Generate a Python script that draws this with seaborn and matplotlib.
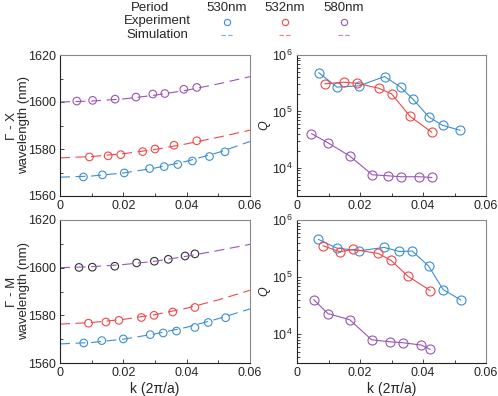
import numpy as np
import pandas as pd
import seaborn as sns
import matplotlib
matplotlib.use('Agg')
from matplotlib import pyplot as plt
from matplotlib.lines import Line2D
from matplotlib.ticker import MultipleLocator, FuncFormatter, LogLocator, NullFormatter

# 周期
periods = ['530nm', '532nm', '580nm']
colors = {'530nm': '#3a8fd3', '532nm': '#f04848', '580nm': '#9a55b5'}

# Γ-X 实验数据 (k, 波长)
gx_k = {
    '530nm': [0.0074, 0.0134, 0.0203, 0.0283, 0.0329, 0.0372, 0.0418, 0.0472, 0.0521],
    '532nm': [0.0093, 0.0152, 0.0192, 0.0261, 0.0300, 0.0360, 0.0432],
    '580nm': [0.0053, 0.0103, 0.0174, 0.0240, 0.0293, 0.0331, 0.0391, 0.0432],
}
gx_wl = {
    '530nm': [1568.1, 1569.0, 1569.8, 1571.7, 1572.5, 1573.4, 1574.9, 1576.8, 1578.8],
    '532nm': [1576.6, 1577.1, 1577.6, 1578.9, 1580.0, 1581.6, 1583.5],
    '580nm': [1600.4, 1600.7, 1601.2, 1602.1, 1603.4, 1603.6, 1605.4, 1606.2],
}
# Γ-M 实验数据
gm_k = {
    '530nm': [0.0075, 0.0132, 0.0200, 0.0285, 0.0326, 0.0368, 0.0426, 0.0468, 0.0523],
    '532nm': [0.0090, 0.0145, 0.0186, 0.0257, 0.0297, 0.0356, 0.0426],
    '580nm': [0.0060, 0.0102, 0.0173, 0.0242, 0.0298, 0.0342, 0.0395, 0.0426],
}
gm_wl = {
    '530nm': [1568.4, 1569.4, 1570.1, 1571.9, 1572.6, 1573.4, 1574.9, 1577.0, 1579.0],
    '532nm': [1576.7, 1577.2, 1577.9, 1579.1, 1580.0, 1581.4, 1583.3],
    '580nm': [1600.1, 1600.2, 1600.6, 1602.0, 1602.7, 1603.5, 1604.9, 1605.8],
}
# 模拟曲线
sim_k = [0.0, 0.01, 0.02, 0.03, 0.04, 0.05, 0.06]
gx_sim = {
    '530nm': [1568.0, 1568.5, 1569.8, 1571.9, 1574.8, 1578.5, 1583.2],
    '532nm': [1576.2, 1576.8, 1578.0, 1579.8, 1582.2, 1585.0, 1588.0],
    '580nm': [1600.0, 1600.4, 1601.3, 1602.9, 1605.0, 1607.7, 1610.8],
}
gm_sim = {
    '530nm': [1568.0, 1568.6, 1570.0, 1572.2, 1575.0, 1578.6, 1582.7],
    '532nm': [1576.3, 1577.0, 1578.3, 1580.3, 1583.0, 1586.5, 1590.5],
    '580nm': [1600.0, 1600.4, 1601.3, 1602.7, 1604.8, 1607.2, 1609.8],
}
# Q 因子
gx_q = {
    '530nm': [4.87e5, 2.69e5, 2.84e5, 4.15e5, 2.69e5, 1.65e5, 7.94e4, 5.66e4, 4.62e4],
    '532nm': [3.08e5, 3.29e5, 3.16e5, 2.58e5, 2.05e5, 8.17e4, 4.26e4],
    '580nm': [4.03e4, 2.76e4, 1.61e4, 7.52e3, 7.22e3, 6.94e3, 6.94e3, 6.75e3],
}
gm_q = {
    '530nm': [4.58e5, 3.23e5, 2.90e5, 3.31e5, 2.82e5, 2.86e5, 1.56e5, 6.08e4, 4.00e4],
    '532nm': [3.55e5, 2.78e5, 3.06e5, 2.60e5, 1.96e5, 1.04e5, 5.84e4],
    '580nm': [4.06e4, 2.31e4, 1.81e4, 8.05e3, 7.43e3, 7.14e3, 6.50e3, 5.46e3],
}
gx_qk = {
    '530nm': [0.0069, 0.0127, 0.0197, 0.0278, 0.0329, 0.0368, 0.0419, 0.0462, 0.0518],
    '532nm': [0.0088, 0.0148, 0.0189, 0.0259, 0.0300, 0.0359, 0.0428],
    '580nm': [0.0046, 0.0099, 0.0168, 0.0239, 0.0288, 0.0329, 0.0388, 0.0428],
}
gm_qk = {
    '530nm': [0.0068, 0.0126, 0.0197, 0.0277, 0.0325, 0.0366, 0.0418, 0.0464, 0.0520],
    '532nm': [0.0082, 0.0137, 0.0179, 0.0258, 0.0299, 0.0352, 0.0423],
    '580nm': [0.0053, 0.0098, 0.0167, 0.0237, 0.0295, 0.0338, 0.0395, 0.0423],
}

sns.set_style('ticks')
plt.rcParams['font.family'] = ['Liberation Sans', 'DejaVu Sans']
plt.rcParams['font.size'] = 9
plt.rcParams['mathtext.fontset'] = 'custom'
plt.rcParams['mathtext.rm'] = 'Liberation Sans'
plt.rcParams['mathtext.it'] = 'Liberation Sans:italic'

fig = plt.figure(figsize=(4.98, 3.96), dpi=100)
W, H = 498, 396
def box(l, t, r, b):
    return [l / W, 1 - b / H, (r - l) / W, (b - t) / H]

ax_gx = fig.add_axes(box(60, 55, 250, 196))
ax_qx = fig.add_axes(box(297, 55, 486, 196))
ax_gm = fig.add_axes(box(60, 220, 250, 363))
ax_qm = fig.add_axes(box(297, 220, 486, 363))

def style(ax):
    ax.set_xlim(0, 0.06)
    ax.xaxis.set_major_locator(MultipleLocator(0.02))
    ax.xaxis.set_minor_locator(MultipleLocator(0.01))
    ax.xaxis.set_major_formatter(FuncFormatter(lambda v, p: '0' if abs(v) < 1e-9 else f'{v:.2f}'))
    ax.tick_params(which='both', direction='in', length=3, width=0.6, labelsize=9, pad=3)
    ax.tick_params(which='minor', length=2)
    ax.tick_params(top=False, right=False)
    for s in ['left', 'bottom']:
        ax.spines[s].set_color('#222222')
        ax.spines[s].set_linewidth(0.8)
    for s in ['top', 'right']:
        ax.spines[s].set_color('#888888')
        ax.spines[s].set_linewidth(0.8)
    ax.set_xlabel('')
    ax.set_ylabel('')

def wl_panel(ax, ks, wls, sims, edge580):
    for p in periods:
        sns.lineplot(x=sim_k, y=sims[p], ax=ax, color=colors[p], lw=0.8,
                     linestyle=(0, (9, 5)), legend=False)
        ec = edge580 if p == '580nm' else colors[p]
        sns.scatterplot(x=ks[p], y=wls[p], ax=ax, marker='o', s=30,
                        facecolors='none', edgecolor=ec, linewidth=0.8, legend=False)
    ax.set_ylim(1560, 1620)
    ax.yaxis.set_major_locator(MultipleLocator(20))
    ax.yaxis.set_minor_locator(MultipleLocator(10))
    style(ax)

def q_panel(ax, ks, qs):
    for p in periods:
        sns.lineplot(x=ks[p], y=qs[p], ax=ax, color=colors[p], lw=0.8, marker='o',
                     markersize=6.5, markerfacecolor='none', markeredgecolor=colors[p],
                     markeredgewidth=0.8, legend=False)
    ax.set_yscale('log')
    ax.set_ylim(10 ** 3.5, 1e6)
    ax.yaxis.set_major_locator(LogLocator(base=10, numticks=10))
    ax.yaxis.set_minor_locator(LogLocator(base=10, subs=np.arange(2, 10), numticks=10))
    ax.yaxis.set_minor_formatter(NullFormatter())
    style(ax)
    ax.set_ylabel('$\\mathit{Q}$')
    ax.yaxis.set_label_coords(-0.125, 0.5)

wl_panel(ax_gx, gx_k, gx_wl, gx_sim, colors['580nm'])
wl_panel(ax_gm, gm_k, gm_wl, gm_sim, '#333333')
q_panel(ax_qx, gx_qk, gx_q)
q_panel(ax_qm, gm_qk, gm_q)

for ax, lab in [(ax_gx, 'Γ - X\nwavelength (nm)'), (ax_gm, 'Γ - M\nwavelength (nm)')]:
    ax.set_ylabel(lab, linespacing=1.0, fontsize=9.5)
    ax.yaxis.set_label_coords(-0.16, 0.5)
ax_gm.set_xlabel('k (2π/a)', labelpad=2, fontsize=10)
ax_qm.set_xlabel('k (2π/a)', labelpad=2, fontsize=10)

# 顶部图例表格
fs = 9.5
fig.text(150 / W, 1 - 8 / H, 'Period', ha='center', va='center', fontsize=fs)
fig.text(157 / W, 1 - 21 / H, 'Experiment', ha='center', va='center', fontsize=fs)
fig.text(157 / W, 1 - 35 / H, 'Simulation', ha='center', va='center', fontsize=fs)
for p, cx in zip(periods, [227, 285, 344]):
    fig.text(cx / W, 1 - 8 / H, p, ha='center', va='center', fontsize=fs)
    fig.add_artist(Line2D([cx / W], [1 - 22 / H], transform=fig.transFigure, marker='o',
                          markersize=4.5, markerfacecolor='none', markeredgecolor=colors[p],
                          markeredgewidth=0.8, linestyle='none'))
    fig.add_artist(Line2D([(cx - 6) / W, (cx + 6) / W], [1 - 35 / H, 1 - 35 / H],
                          transform=fig.transFigure, color=colors[p], lw=0.8,
                          linestyle=(0, (4, 2)), alpha=0.7))

fig.savefig('out.png', dpi=100)
